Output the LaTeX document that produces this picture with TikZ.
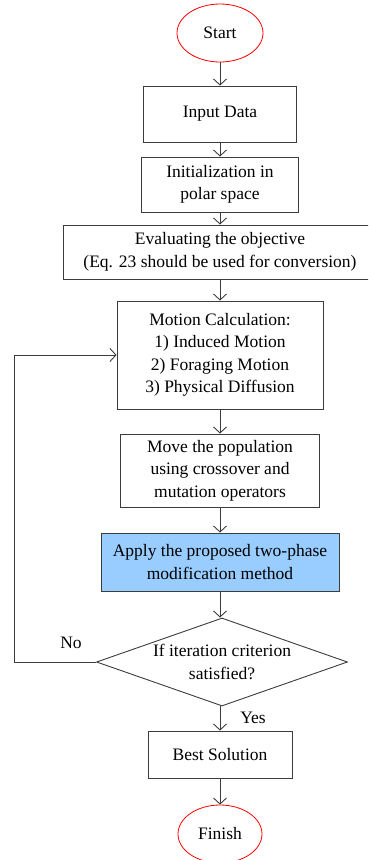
\documentclass[tikz,border=0pt]{standalone}
\usepackage{fontspec}
\setmainfont{Liberation Serif}
\usetikzlibrary{shapes.geometric,arrows.meta}
\definecolor{linegray}{RGB}{60,60,60}
\definecolor{procblue}{RGB}{153,204,255}
\tikzset{
  base/.style={font=\fontsize{17.5}{22.5}\selectfont, align=center, inner sep=0pt},
  terminal/.style={base, ellipse, draw=red, line width=0.8pt},
  procbox/.style={base, rectangle, draw=linegray, line width=0.9pt},
  decision/.style={diamond, draw=linegray, line width=0.9pt, inner sep=0pt},
  flow/.style={draw=linegray, line width=0.9pt, -{Straight Barb[length=6pt,width=13pt]}},
  tag/.style={base}
}
\begin{document}
\begin{tikzpicture}[x=1pt,y=-1pt]
  \useasboundingbox (0,0) rectangle (368,860);
  \clip (0,0) rectangle (368,860);

  \node[terminal, minimum width=86pt, minimum height=58pt] (start) at (220,33) {Start};
  \node[procbox, minimum width=153pt, minimum height=56pt] (input) at (220,114) {Input Data};
  \node[procbox, minimum width=157pt, minimum height=55pt] (init) at (220,184.5) {Initialization in\\polar space};
  \node[procbox, minimum width=314pt, minimum height=54pt] (eval) at (220,252) {Evaluating the objective\\(Eq. 23 should be used for conversion)};
  \node[procbox, minimum width=206pt, minimum height=108pt] (motion) at (220,355) {Motion Calculation:\\1) Induced Motion\\2) Foraging Motion\\3) Physical Diffusion};
  \node[procbox, minimum width=199pt, minimum height=73pt] (move) at (220,470.5) {Move the population\\using crossover and\\mutation operators};
  \node[procbox, fill=procblue, minimum width=238pt, minimum height=58pt] (apply) at (220,562) {Apply the proposed two-phase\\modification method};
  \node[decision, minimum width=251pt, minimum height=88pt, aspect=2.85] (dia) at (222,662) {};
  \node[tag] (diatext) at (222,662) {If iteration criterion\\satisfied?};
  \node[procbox, minimum width=144pt, minimum height=47pt] (best) at (220,754.5) {Best Solution};
  \node[terminal, minimum width=84pt, minimum height=58pt] (finish) at (220,834) {Finish};

  \node[tag] (nolabel) at (71,643) {No};
  \node[tag] (yeslabel) at (253,718) {Yes};

  \coordinate (loopc) at (14,662);

  \draw[flow] (start) -- (input);
  \draw[flow] (input) -- (init);
  \draw[flow] (init) -- (eval);
  \draw[flow] (eval) -- (motion);
  \draw[flow] (motion) -- (move);
  \draw[flow] (move) -- (apply);
  \draw[flow] (apply.south) -- (apply.south |- dia.north);
  \draw[flow] (dia.south -| best.north) -- (best.north);
  \draw[flow] (best) -- (finish);
  \draw[flow] (dia.west) -- (loopc) |- (motion.west);
\end{tikzpicture}
\end{document}
